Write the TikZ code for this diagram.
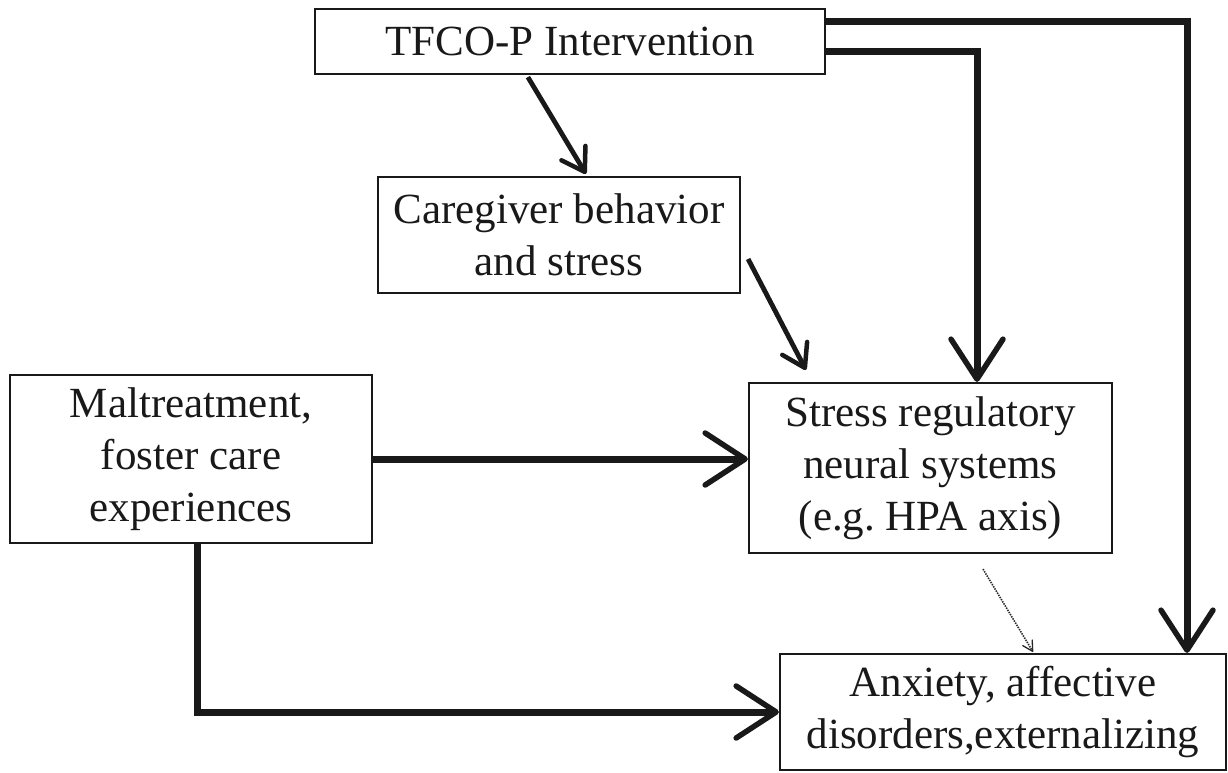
\documentclass[tikz,border=0pt]{standalone}
\usepackage{fontspec}
\setmainfont{Liberation Serif}
\usetikzlibrary{arrows.meta,calc}
\begin{document}
\begin{tikzpicture}[x=1pt,y=-1pt,
  box/.style={draw=black!90, line width=2.2pt, rectangle, inner sep=0pt, align=center,
              text=black!90, font=\fontsize{43}{52}\selectfont},
  thickarr/.style={draw=black!90, line width=7pt,
              -{Straight Barb[round,length=40pt,width=52pt,line width=5.5pt]}},
  diagarr/.style={draw=black!90, line width=4.8pt,
              -{Straight Barb[round,length=22pt,width=28pt,line width=4.5pt]}},
  dotarr/.style={draw=black!85, line width=1.6pt, dash pattern=on 1.4pt off 1.1pt,
              -{Straight Barb[round,length=10pt,width=11pt,line width=1.3pt]}}
]
\useasboundingbox (0,0) rectangle (1228,772);
\fill[white] (0,0) rectangle (1228,772);

\node[box, minimum width=510pt, minimum height=65pt] (tfco) at (570,41.5) {TFCO-P Intervention};
\node[box, minimum width=362pt, minimum height=116pt] (care) at (559,235) {Caregiver behavior\\and stress};
\node[box, minimum width=362pt, minimum height=168pt] (malt) at (191,459) {Maltreatment,\\foster care\\experiences};
\node[box, minimum width=363pt, minimum height=170pt] (stress) at (930.5,468) {Stress regulatory\\neural systems\\(e.g.\ HPA axis)};
\node[box, minimum width=446pt, minimum height=116pt] (anx) at (1003,712) {Anxiety, affective\\disorders,externalizing};

% TFCO -> Caregiver
\draw[diagarr] ($(tfco.south west)+(214,2)$) -- ($(care.north west)+(209,-2)$);
% Caregiver -> Stress
\draw[diagarr] ($(care.east)+(7,24)$) -- ($(stress.north west)+(58,-12)$);
% TFCO -> Stress
\draw[thickarr] ($(tfco.north east)+(0,44)$) -| ($(stress.north)+(46.5,0)$);
% TFCO -> Anxiety
\draw[thickarr] ($(tfco.north east)+(0,14)$) -| ($(anx.north)+(184,0)$);
% Maltreatment -> Stress
\draw[thickarr] (malt.east) -- (malt.east -| stress.west);
% Maltreatment -> Anxiety
\draw[thickarr] ($(malt.south)+(6,0)$) |- (anx.west);
% Stress -> Anxiety (dotted)
\draw[dotarr] ($(stress.south)+(52.5,15)$) -- ($(anx.north)+(30,-1)$);
\end{tikzpicture}
\end{document}
